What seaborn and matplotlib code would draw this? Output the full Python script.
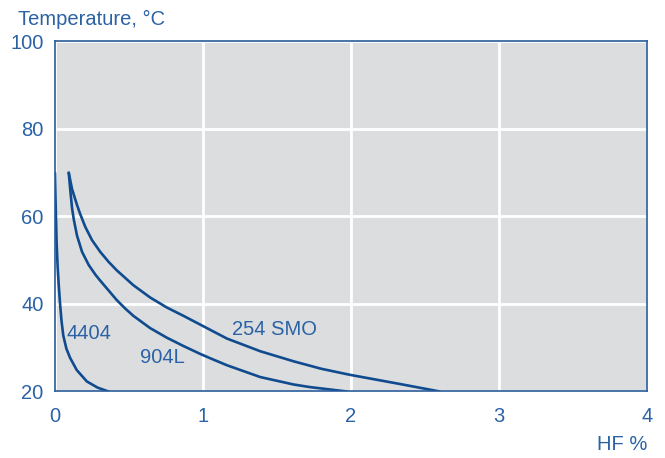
import pandas as pd
import matplotlib.pyplot as plt
import seaborn as sns

# HF concentration (%) vs temperature (°C) for each steel grade
hf_4404 = [0.003, 0.008, 0.014, 0.021, 0.028, 0.037, 0.047, 0.059, 0.08, 0.105,
           0.15, 0.218, 0.29, 0.364]
temp_4404 = [70, 62, 54, 48.5, 44.5, 40.2, 36.2, 32.8, 29.8, 27.7,
             24.9, 22.3, 20.9, 20]

hf_904l = [0.096, 0.107, 0.118, 0.130, 0.152, 0.186, 0.231, 0.276, 0.307, 0.42,
           0.476, 0.532, 0.645, 0.758, 0.87, 0.983, 1.051, 1.164, 1.389, 1.614,
           1.726, 1.974]
temp_904l = [70, 65.8, 62.0, 59.3, 55.6, 51.9, 48.9, 46.7, 45.4, 40.9,
             39.0, 37.3, 34.5, 32.3, 30.4, 28.6, 27.6, 26.0, 23.3, 21.6,
             21.0, 20]

hf_254 = [0.096, 0.118, 0.152, 0.174, 0.208, 0.253, 0.309, 0.366, 0.42, 0.532,
          0.645, 0.758, 0.87, 0.983, 1.164, 1.389, 1.614, 1.8, 1.996, 2.334, 2.6]
temp_254 = [70, 66.3, 62.6, 60.5, 57.6, 54.6, 51.9, 49.6, 47.7, 44.3,
            41.5, 39.2, 37.3, 35.3, 32.1, 29.2, 26.9, 25.2, 23.8, 21.7, 20]

labels = ["4404", "904L", "254 SMO"]
label_pos = [(0.082, 33.3), (0.578, 27.8), (1.197, 34.2)]

x_ticks = [0, 1, 2, 3, 4]
y_ticks = [20, 40, 60, 80, 100]

df = pd.concat([
    pd.DataFrame({"hf": hf_4404, "temp": temp_4404, "grade": "4404"}),
    pd.DataFrame({"hf": hf_904l, "temp": temp_904l, "grade": "904L"}),
    pd.DataFrame({"hf": hf_254, "temp": temp_254, "grade": "254 SMO"}),
])

text_col = "#2b62a5"
line_col = "#0f4b8e"

sns.set_theme(style="white")
plt.rcParams['font.family'] = ['Liberation Sans', 'DejaVu Sans']

fig = plt.figure(figsize=(6.65, 4.58), dpi=100)
ax = fig.add_axes([0.0820, 0.1452, 0.8910, 0.7642])
ax.set_facecolor("#dcdddf")

sns.lineplot(data=df, x="hf", y="temp", units="grade", estimator=None,
             sort=False, color=line_col, linewidth=1.9, ax=ax)
for ln in ax.lines:
    ln.set_solid_joinstyle("round")

for lab, (x, y) in zip(labels, label_pos):
    ax.text(x, y, lab, color=text_col, fontsize=14.5, va="center", ha="left")

ax.set_xlim(0, 4)
ax.set_ylim(20, 100)
ax.set_xticks(x_ticks)
ax.set_yticks(y_ticks)
ax.grid(True, color="white", linewidth=2)
ax.set_axisbelow(True)
ax.tick_params(axis="both", length=0, labelsize=14.5, labelcolor=text_col)
ax.tick_params(axis="x", pad=11)
ax.tick_params(axis="y", pad=8)
for s in ax.spines.values():
    s.set_color("#2a5b9b")
    s.set_linewidth(1.2)
ax.set_xlabel("")
ax.set_ylabel("")

fig.text(18 / 665, 1 - 19 / 458, "Temperature, °C", color=text_col, fontsize=14.5,
         ha="left", va="center")
fig.text(647 / 665, 1 - 445 / 458, "HF %", color=text_col, fontsize=14.5,
         ha="right", va="center")

plt.savefig("out.png", dpi=100)
